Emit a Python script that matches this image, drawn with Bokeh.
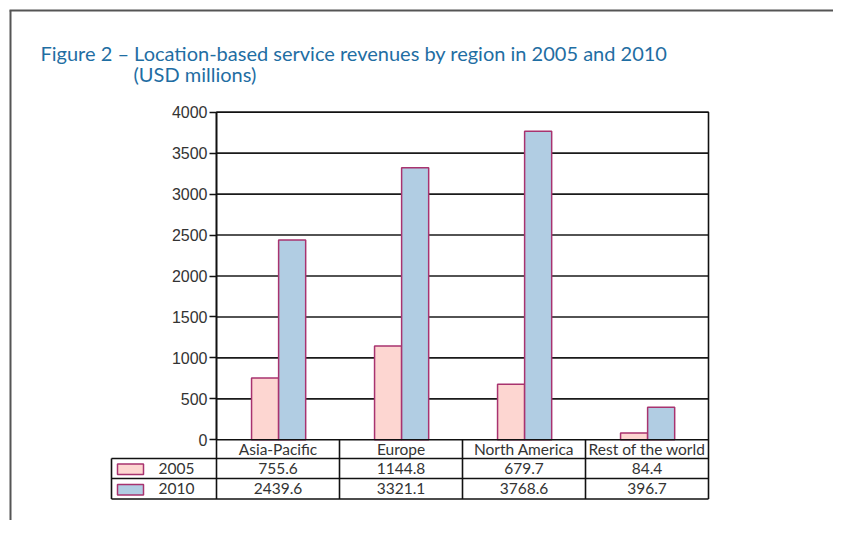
from bokeh.plotting import figure
from bokeh.models import Range1d, FixedTicker, ColumnDataSource
from bokeh.core.properties import value
from bokeh.embed import file_html
from bokeh.resources import INLINE

# ---------------- data ----------------
categories = ["Asia-Pacific", "Europe", "North America", "Rest of the world"]
years = ["2005", "2010"]
rev_2005 = [755.6, 1144.8, 679.7, 84.4]
rev_2010 = [2439.6, 3321.1, 3768.6, 396.7]
y_ticks = [0, 500, 1000, 1500, 2000, 2500, 3000, 3500, 4000]
title_line1 = "Figure 2 \u2013 Location-based service revenues by region in 2005 and 2010"
title_line2 = "(USD millions)"

# ---------------- layout (canvas pixels -> data units) ----------------
W, H = 833, 520
X0_PX, CAT_PX = 216.0, 123.0          # x=0 at px 216, one category = 123 px
Y0_PX = 439.3                         # value 0 at px 439.3
PX_PER_UNIT = 327.6 / 4000.0          # vertical pixels per USD million

def X(px):
    return (px - X0_PX) / CAT_PX

def Y(py):
    return (Y0_PX - py) / PX_PER_UNIT

p = figure(width=W, height=H, output_backend="svg", toolbar_location=None,
           x_range=Range1d(X(0), X(W)), y_range=Range1d(Y(H), Y(0)),
           x_axis_location=None, min_border=0)
p.outline_line_color = None
p.grid.visible = False
p.background_fill_color = "white"

FONT = value("Lato")
TXT = "#333333"
OUTLINE = "#a8336f"
FILL_2005 = "#fdd6d1"
FILL_2010 = "#b1cde3"
ncat = len(categories)
y_top = y_ticks[-1]

# outer frame border (partial box of the original figure)
p.segment(x0=[X(9), X(10)], y0=[Y(10), Y(10)], x1=[X(W + 5), X(10)], y1=[Y(10), Y(H + 5)],
          line_color="#555555", line_width=2)

# title
p.text(x=[X(40)], y=[Y(52)], text=[title_line1], text_font=FONT, text_font_size="20px",
       text_color="#1f6ea3", text_baseline="alphabetic", text_align="left")
p.text(x=[X(133)], y=[Y(73)], text=[title_line2], text_font=FONT, text_font_size="20px",
       text_color="#1f6ea3", text_baseline="alphabetic", text_align="left")

# gridlines
grid_vals = [t for t in y_ticks if t > 0]
p.segment(x0=[0] * len(grid_vals), x1=[ncat] * len(grid_vals), y0=grid_vals, y1=grid_vals,
          line_color="#1a1a1a", line_width=1.6)

# bars
w = 0.22
xs = list(range(ncat))
src = ColumnDataSource(dict(x05=[i + 0.395 for i in xs], x10=[i + 0.615 for i in xs],
                            v05=rev_2005, v10=rev_2010))
p.vbar(x="x05", top="v05", bottom=0, width=w, source=src,
       fill_color=FILL_2005, line_color=OUTLINE, line_width=1.5)
p.vbar(x="x10", top="v10", bottom=0, width=w, source=src,
       fill_color=FILL_2010, line_color=OUTLINE, line_width=1.5)

# plot frame
p.quad(left=[0], right=[ncat], bottom=[0], top=[y_top], fill_color=None,
       line_color="#111111", line_width=1.6)

# y axis
ax = p.yaxis[0]
ax.fixed_location = 0
ax.bounds = (0, y_top)
ax.ticker = FixedTicker(ticks=y_ticks)
ax.axis_line_color = "#111111"
ax.axis_line_width = 1.6
ax.major_tick_in = 0
ax.major_tick_out = 7
ax.major_tick_line_color = "#111111"
ax.major_tick_line_width = 1.5
ax.minor_tick_out = 0
ax.minor_tick_in = 0
ax.major_label_text_font = "Liberation Sans"
ax.major_label_text_font_size = "16px"
ax.major_label_text_color = TXT
ax.major_label_standoff = 2

# data table below the chart
row_top, row1, row2, row_bot = Y(Y0_PX), Y(458), Y(478), Y(498.5)
left_col = X(111)
p.segment(x0=[left_col] * 3, x1=[ncat] * 3, y0=[row1, row2, row_bot], y1=[row1, row2, row_bot],
          line_color="#111111", line_width=1.6)
vx = list(range(ncat + 1))
p.segment(x0=vx, x1=vx, y0=[0] * len(vx), y1=[row_bot] * len(vx),
          line_color="#111111", line_width=1.6)
p.segment(x0=[left_col], x1=[left_col], y0=[row1], y1=[row_bot],
          line_color="#111111", line_width=1.6)

centers = [i + 0.5 for i in xs]
p.text(x=centers, y=[(row_top + row1) / 2] * ncat, text=categories, text_font=FONT,
       text_font_size="15.5px", text_color=TXT, text_align="center", text_baseline="middle")
p.text(x=centers, y=[(row1 + row2) / 2] * ncat, text=[f"{v:.1f}" for v in rev_2005], text_font=FONT,
       text_font_size="15.5px", text_color=TXT, text_align="center", text_baseline="middle")
p.text(x=centers, y=[(row2 + row_bot) / 2] * ncat, text=[f"{v:.1f}" for v in rev_2010], text_font=FONT,
       text_font_size="15.5px", text_color=TXT, text_align="center", text_baseline="middle")

# legend swatches + year labels
p.quad(left=[X(117), X(117)], right=[X(143), X(143)],
       top=[Y(463.5), Y(484)], bottom=[Y(474), Y(494.5)],
       fill_color=[FILL_2005, FILL_2010], line_color=OUTLINE, line_width=1.5)
p.text(x=[X(158), X(158)], y=[(row1 + row2) / 2, (row2 + row_bot) / 2], text=years, text_font=FONT,
       text_font_size="15.5px", text_color=TXT, text_align="left", text_baseline="middle")

open("out.html", "w").write(file_html(p, INLINE))
